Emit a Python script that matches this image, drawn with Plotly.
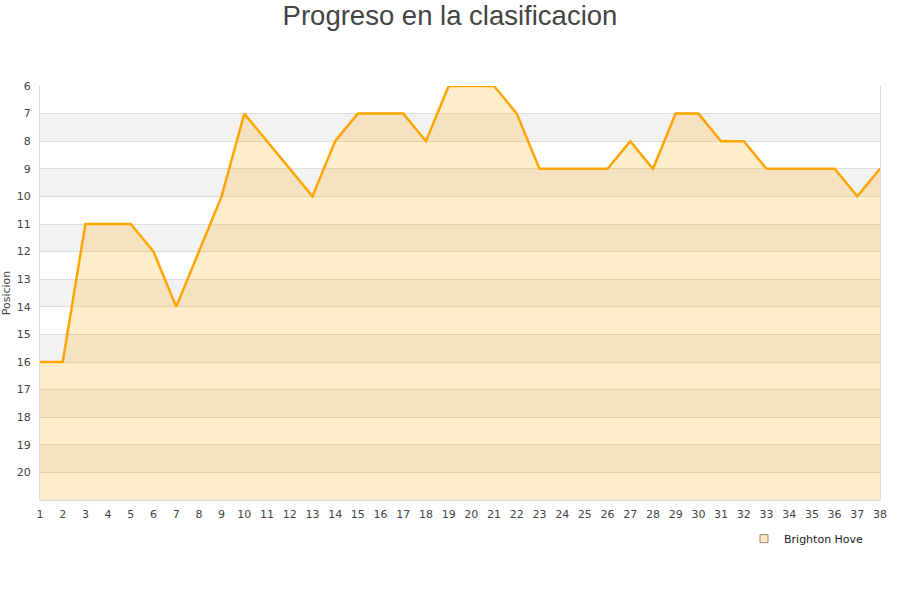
import plotly.graph_objects as go

jornadas = list(range(1, 39))
posiciones = [16, 16, 11, 11, 11, 12, 14, 12, 10, 7,
              8, 9, 10, 8, 7, 7, 7, 8, 6, 6,
              6, 7, 9, 9, 9, 9, 8, 9, 7, 7,
              8, 8, 9, 9, 9, 9, 10, 9]
equipo = "Brighton Hove"
titulo = "Progreso en la clasificacion"
y_min, y_max = 6, 21

fig = go.Figure()

# alternating bands
shapes = []
for k in range(7, 21, 2):
    shapes.append(dict(type="rect", xref="x", yref="y", x0=1, x1=38, y0=k, y1=k + 1,
                       fillcolor="#f2f2f2", line_width=0, layer="below"))

fig.add_trace(go.Scatter(x=jornadas, y=[y_max] * len(jornadas), mode="lines",
                         line=dict(width=0), showlegend=False, hoverinfo="skip"))
fig.add_trace(go.Scatter(x=jornadas, y=posiciones, mode="lines", fill="tonexty",
                         fillcolor="rgba(255,165,0,0.2)",
                         line=dict(color="#ffa500", width=2.5),
                         name=equipo, showlegend=False))
fig.add_trace(go.Scatter(x=[None], y=[None], mode="markers", name=equipo,
                         marker=dict(symbol="square", size=8, color="#ffe8c2",
                                     line=dict(color="#9a8a70", width=1))))

fig.update_layout(
    width=900, height=600,
    paper_bgcolor="white", plot_bgcolor="white",
    margin=dict(l=40, r=20, t=86, b=100, autoexpand=False),
    title=dict(text=titulo, x=0.5, xanchor="center", xref="container",
               yref="container", y=1 - 15 / 600, yanchor="middle",
               font=dict(family="Liberation Sans, Arial", size=27.5, color="#444444")),
    font=dict(family="DejaVu Sans", size=11, color="#444444"),
    shapes=shapes,
    showlegend=True,
    legend=dict(x=0.8381, y=-0.0583, xanchor="left", yanchor="top", orientation="h",
                font=dict(family="DejaVu Sans", size=11, color="#222222"),
                bgcolor="rgba(0,0,0,0)", itemwidth=30),
)
fig.update_xaxes(range=[1, 38], tickmode="array", tickvals=jornadas,
                 ticktext=[str(j) for j in jornadas], showgrid=False, zeroline=False,
                 showline=True, linecolor="#dddddd", linewidth=1, mirror=False,
                 ticks="", tickfont=dict(size=11, color="#444444"), automargin=False,
                 ticklabelstandoff=4)
fig.update_yaxes(range=[y_max, y_min], tickmode="array", tickvals=list(range(6, 21)),
                 showgrid=True, gridcolor="#dddddd", gridwidth=1, zeroline=False,
                 showline=True, linecolor="#dddddd", linewidth=1, mirror=True,
                 ticks="", tickfont=dict(size=11, color="#444444"), automargin=True,
                 ticklabelstandoff=6,
                 title=dict(text="Posicion", font=dict(size=11, color="#444444"), standoff=3))
fig.write_html("out.html", post_script="document.body.style.margin='0px';",
               config={"displayModeBar": False})
